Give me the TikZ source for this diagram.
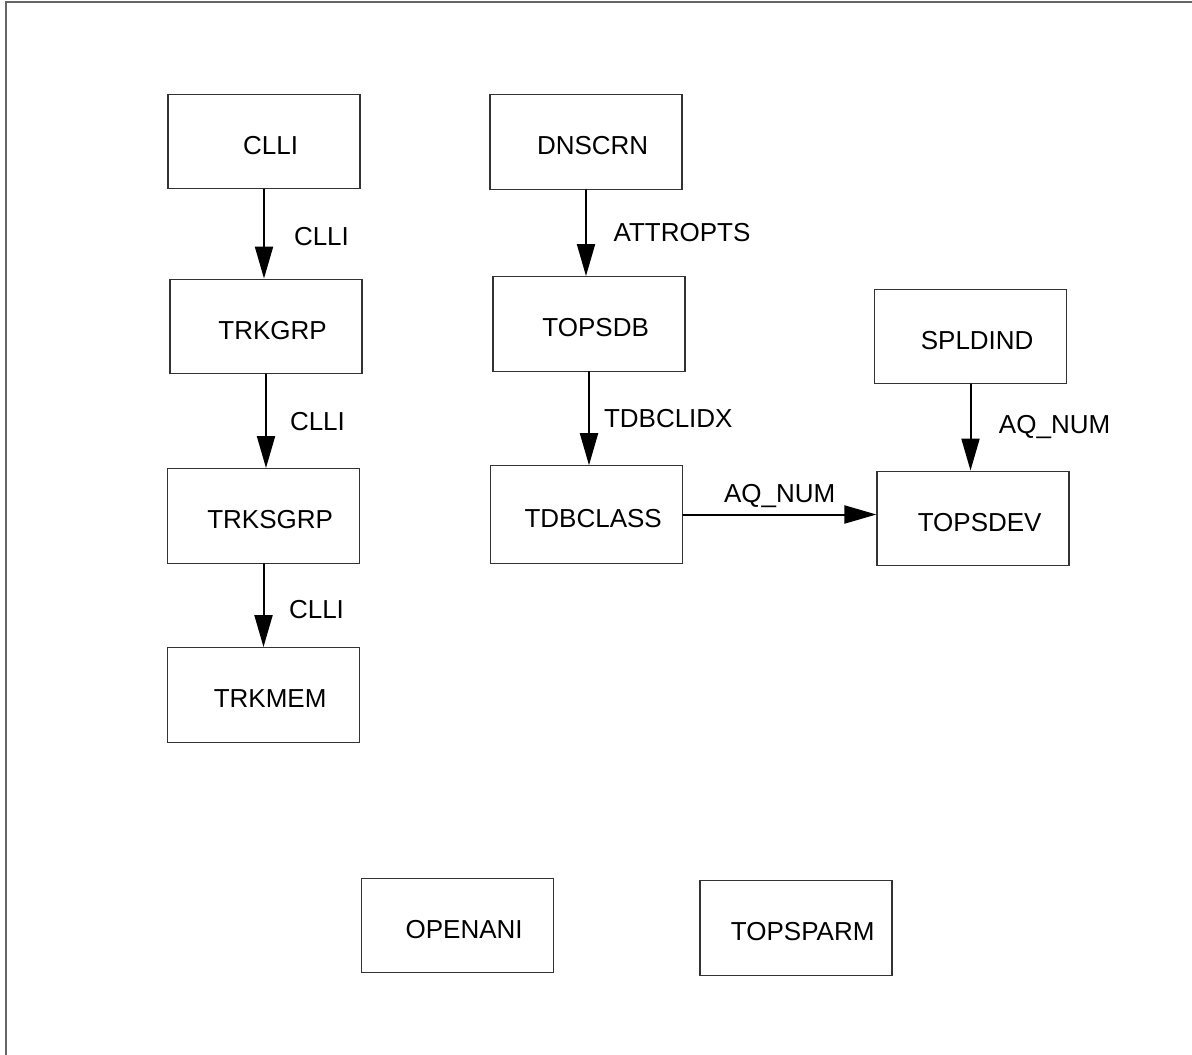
\documentclass[tikz,border=0pt]{standalone}
\usepackage{fontspec}
\setmainfont{Liberation Sans}
\usetikzlibrary{arrows.meta}

\begin{document}
\begin{tikzpicture}[x=0.75pt, y=-0.75pt, line cap=round,
		tbl/.style={draw=black!80, line width=0.9pt, minimum width=144pt, minimum height=71pt, inner sep=0pt, text height=19pt, text depth=0pt, execute at begin node={\hspace*{10pt}}, font=\fontsize{19.5pt}{23pt}\selectfont},
		link/.style={-{Triangle[length=24pt, width=13.5pt]}, line width=1.5pt},
		lbl/.style={inner sep=0pt, font=\fontsize{19.5pt}{23pt}\selectfont}]
		\useasboundingbox (0,0) rectangle (1192,1055);
		\draw[black!60, line width=1.5pt] (6,1055) -- (6,2) -- (1192,2);
		
		% trunk tables
		\node[tbl] (clli) at (264,141.5) {CLLI};
		\node[tbl] (trkgrp) at (266,326.5) {TRKGRP};
		\node[tbl] (trksgrp) at (263.5,516) {TRKSGRP};
		\node[tbl] (trkmem) at (263.5,695) {TRKMEM};
		
		\draw[link] (clli.south) -- (clli.south |- trkgrp.north) node[lbl, midway, anchor=west, xshift=21.75pt, yshift=-2pt] {CLLI};
		\draw[link] (trkgrp.south) -- (trkgrp.south |- trksgrp.north) node[lbl, midway, anchor=west, xshift=17.25pt] {CLLI};
		\draw[link] (trksgrp.south) -- (trksgrp.south |- trkmem.north) node[lbl, midway, anchor=west, xshift=18.4pt, yshift=-3pt] {CLLI};
		
		% TOPS database tables
		\node[tbl] (dnscrn) at (586,142) {DNSCRN};
		\node[tbl] (topsdb) at (589,324) {TOPSDB};
		\node[tbl, minimum height=73pt] (tdbclass) at (586.5,514.5) {TDBCLASS};
		
		\draw[link] (dnscrn.south) -- (dnscrn.south |- topsdb.north) node[lbl, midway, anchor=west, xshift=20pt] {ATTROPTS};
		\draw[link] (topsdb.south) -- (topsdb.south |- tdbclass.north) node[lbl, midway, anchor=west, xshift=10.5pt] {TDBCLIDX};
		
		% device tables
		\node[tbl] (spldind) at (970.5,336.5) {SPLDIND};
		\node[tbl] (topsdev) at (973,518.5) {TOPSDEV};
		
		\draw[link] (spldind.south) -- (spldind.south |- topsdev.north) node[lbl, midway, anchor=west, xshift=20.6pt] {AQ\_NUM};
		\draw[link] (tdbclass.east) -- (tdbclass.east -| topsdev.west) node[lbl, midway, anchor=base, yshift=9pt] {AQ\_NUM};
		
		% stand-alone tables
		\node[tbl] (openani) at (457.5,925.5) {OPENANI};
		\node[tbl] (topsparm) at (796,928) {TOPSPARM};
\end{tikzpicture}
\end{document}
